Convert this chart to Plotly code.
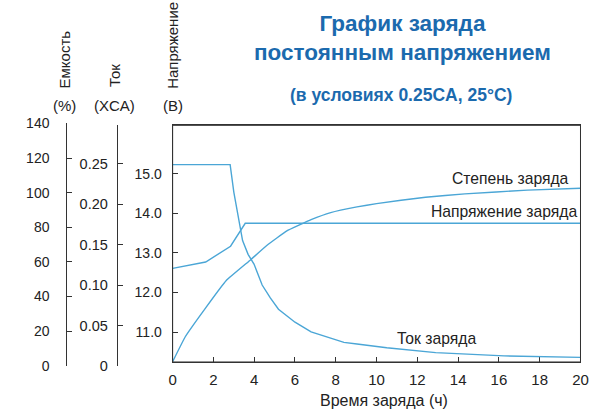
import plotly.graph_objects as go

W, H = 613, 420

# ---- data ----
volt_t = [0, 1.62, 2.84, 3.56, 20]
volt_v = [12.61, 12.77, 13.17, 13.75, 13.75]

cur_t = [0, 2.82, 3.0, 3.22, 3.43, 3.7, 3.99, 4.39, 4.79, 5.19, 6.0, 6.79, 7.6, 8.4, 9.04, 10.5, 12.9, 16.25, 20]
cur_v = [0.249, 0.249, 0.215, 0.185, 0.155, 0.138, 0.126, 0.100, 0.084, 0.070, 0.054, 0.042, 0.035, 0.029, 0.027, 0.0223, 0.0163, 0.0123, 0.0104]

cap_t = [0, 0.62, 1.62, 2.63, 3.83, 4.63, 5.6, 6.79, 7.75, 9.04, 10.0, 12.4, 14.33, 17.4, 20]
cap_v = [2.4, 16.8, 33.5, 49.3, 61.3, 69.6, 77.9, 84.4, 88.5, 91.8, 93.7, 97.4, 99.3, 101.5, 102.6]

x_ticks = [0, 2, 4, 6, 8, 10, 12, 14, 16, 18, 20]
volt_ticks = [11.0, 12.0, 13.0, 14.0, 15.0]
volt_labels = ["11.0", "12.0", "13.0", "14.0", "15.0"]
cur_ticks = [0, 0.05, 0.10, 0.15, 0.20, 0.25]
cur_labels = ["0", "0.05", "0.10", "0.15", "0.20", "0.25"]
cap_ticks = [0, 20, 40, 60, 80, 100, 120, 140]

title_text = "График заряда<br>постоянным напряжением"
subtitle = "(в условиях 0.25CA, 25°C)"

LINE = "#4ba6d6"
TXT = "#222222"
FONT = "Liberation Sans, Arial, sans-serif"
TITLE_C = "#1b6aae"


def px(x):
    return x / W


def py(y):
    return 1 - y / H


xdom = [px(172), px(588)]

fig = go.Figure()
fig.add_trace(go.Scatter(x=volt_t, y=volt_v, mode="lines", line=dict(color=LINE, width=1.4),
                         xaxis="x", yaxis="y", showlegend=False))
fig.add_trace(go.Scatter(x=cap_t, y=cap_v, mode="lines", line=dict(color=LINE, width=1.4, shape="spline", smoothing=0.3),
                         xaxis="x2", yaxis="y2", showlegend=False))
fig.add_trace(go.Scatter(x=cur_t, y=cur_v, mode="lines", line=dict(color=LINE, width=1.4),
                         xaxis="x3", yaxis="y3", showlegend=False))

base = dict(showline=True, linecolor="#333333", linewidth=1, ticks="inside", ticklen=5,
            tickwidth=1, tickcolor="#333333", showgrid=False, zeroline=False)


def tf(size):
    return dict(family=FONT, size=size, color=TXT)


fig.update_layout(
    width=W, height=H, margin=dict(l=0, r=0, t=0, b=0),
    paper_bgcolor="white", plot_bgcolor="rgba(0,0,0,0)",
    xaxis=dict(domain=xdom, range=[0, 20], tickvals=x_ticks, mirror=True, anchor="y",
               ticklabelstandoff=4, tickfont=tf(15), **base),
    yaxis=dict(domain=[py(368), py(122)], range=[10.247, 16.222], tickvals=volt_ticks,
               ticktext=volt_labels, mirror=True, anchor="x", ticklabelstandoff=7,
               tickfont=tf(14), **base),
    xaxis2=dict(domain=xdom, range=[0, 20], visible=False, anchor="y2"),
    yaxis2=dict(domain=[py(372), py(120)], range=[0, 140], tickvals=cap_ticks,
                anchor="free", position=px(63.5), side="left", ticklabelstandoff=14,
                tickfont=tf(14), **base),
    xaxis3=dict(domain=xdom, range=[0, 20], visible=False, anchor="y3"),
    yaxis3=dict(domain=[py(372), py(121.7)], range=[0, 0.298], tickvals=cur_ticks,
                ticktext=cur_labels, anchor="free", position=px(115), side="left",
                ticklabelstandoff=6, tickfont=tf(14.5), **base),
)

# plot frame (top and right edges of the main plot area)
fig.add_shape(type="rect", xref="x domain", yref="y domain", x0=0, x1=1, y0=0, y1=1,
              line=dict(color="#333333", width=1), fillcolor="rgba(0,0,0,0)", layer="above")

ann = []


def add_text(text, x, y, size=15, xanchor="center", yanchor="middle", angle=0, bold=False, color=TXT):
    ann.append(dict(text=text, x=px(x), y=py(y), xref="paper", yref="paper", showarrow=False,
                    xanchor=xanchor, yanchor=yanchor, textangle=angle,
                    font=dict(family=FONT, size=size, color=color,
                              weight="bold" if bold else "normal")))


add_text(title_text, 406, 31.5, size=22.5, bold=True, color=TITLE_C)
add_text(subtitle, 405, 90, size=17.5, bold=True, color=TITLE_C)
add_text("Емкость", 62, 86, angle=-90, yanchor="bottom")
add_text("(%)", 62, 101)
add_text("Ток", 113, 84, angle=-90, yanchor="bottom")
add_text("(XCA)", 113, 101)
add_text("Напряжение", 172, 86, angle=-90, yanchor="bottom")
add_text("(В)", 172, 101)
add_text("Степень заряда", 517, 177, size=15.7)
add_text("Напряжение заряда", 510, 212, size=15.7)
add_text("Ток заряда", 441.5, 344, size=15.7)
add_text("Время заряда (ч)", 387.5, 408, size=16)

fig.update_layout(annotations=ann)
fig.write_html("out.html")
